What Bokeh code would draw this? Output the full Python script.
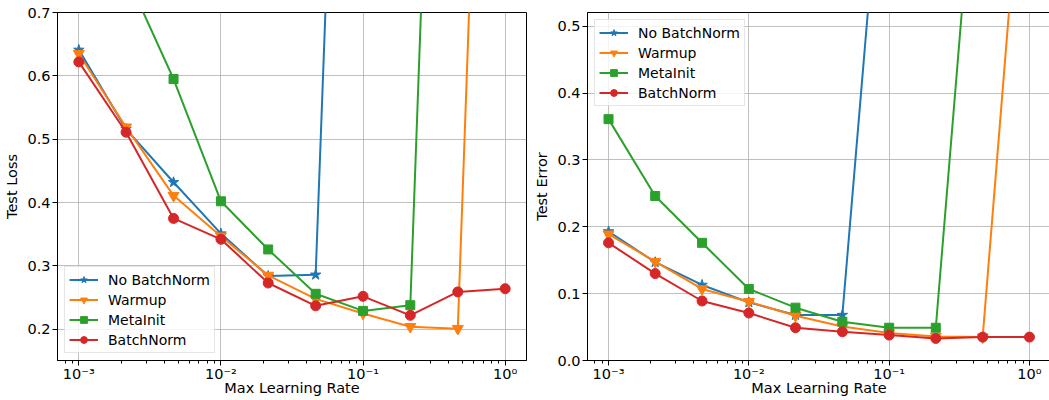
from bokeh.plotting import figure
from bokeh.models import (Range1d, FixedTicker, CustomJSTickFormatter, PrintfTickFormatter,
                          Legend, LegendItem)
from bokeh.layouts import row
from bokeh.embed import file_html
from bokeh.resources import INLINE

# ---- data ----
lr = [0.001, 0.00215, 0.00464, 0.01, 0.0215, 0.0464, 0.1, 0.215, 0.464, 1.0]

series_names = ["No BatchNorm", "Warmup", "MetaInit", "BatchNorm"]

# Test loss (diverged runs ~ ln(10) = 2.303)
loss_nobn = [0.641, 0.516, 0.432, 0.351, 0.284, 0.286, 2.303, 2.303, 2.303, 2.303]
loss_warmup = [0.635, 0.519, 0.411, 0.347, 0.285, 0.248, 0.225, 0.204, 0.201, 2.303]
loss_metainit = [1.000, 0.760, 0.595, 0.402, 0.326, 0.256, 0.229, 0.238, 2.303, 2.303]
loss_bn = [0.622, 0.511, 0.375, 0.342, 0.273, 0.237, 0.252, 0.222, 0.259, 0.264]

# Test error (diverged runs ~ 0.9)
err_nobn = [0.193, 0.147, 0.113, 0.087, 0.068, 0.068, 0.9, 0.9, 0.9, 0.9]
err_warmup = [0.189, 0.148, 0.107, 0.088, 0.067, 0.051, 0.041, 0.036, 0.035, 0.9]
err_metainit = [0.361, 0.246, 0.176, 0.107, 0.079, 0.058, 0.049, 0.049, 0.9, 0.9]
err_bn = [0.176, 0.130, 0.089, 0.071, 0.049, 0.043, 0.038, 0.033, 0.035, 0.035]

loss_ticks = [0.2, 0.3, 0.4, 0.5, 0.6, 0.7]
err_ticks = [0.0, 0.1, 0.2, 0.3, 0.4, 0.5]
x_major = [1e-3, 1e-2, 1e-1, 1.0]

# ---- style ----
colors = ["#1f77b4", "#ff7f0e", "#2ca02c", "#d62728"]
markers = ["star", "inverted_triangle", "square", "circle"]
msizes = [11, 11, 9, 10]
FONT = "DejaVu Sans"

x_minor = [m * 10.0 ** e for e in range(-4, 1) for m in range(2, 10)]

sup_js = """
const sup = {'-':'\u207b','0':'\u2070','1':'\u00b9','2':'\u00b2','3':'\u00b3',
             '4':'\u2074','5':'\u2075','6':'\u2076','7':'\u2077','8':'\u2078','9':'\u2079'};
const e = Math.round(Math.log10(tick));
return '10' + String(e).split('').map(c => sup[c]).join('');
"""


def make_fig(ys_list, ylabel, yrange, yticks, fw, bl, br, legend_loc):
    p = figure(frame_width=fw, frame_height=348, x_axis_type="log",
               x_range=Range1d(10 ** -3.15, 10 ** 0.15), y_range=Range1d(*yrange),
               output_backend="svg", toolbar_location=None,
               min_border_left=bl, min_border_right=br, min_border_top=12, min_border_bottom=40)
    p.outline_line_color = "black"
    p.outline_line_width = 1
    p.outline_line_alpha = 1
    p.background_fill_color = "white"
    p.border_fill_color = "white"

    items = []
    for name, ys, c, m, s in zip(series_names, ys_list, colors, markers, msizes):
        r1 = p.line(lr, ys, line_color=c, line_width=2)
        r2 = p.scatter(lr, ys, marker=m, size=s, fill_color=c, line_color=c)
        items.append(LegendItem(label=name, renderers=[r1, r2]))

    xa = p.xaxis[0]
    xa.ticker = FixedTicker(ticks=x_major, minor_ticks=x_minor)
    xa.formatter = CustomJSTickFormatter(code=sup_js)
    xa.axis_label = "Max Learning Rate"
    ya = p.yaxis[0]
    ya.ticker = FixedTicker(ticks=yticks, minor_ticks=[])
    ya.formatter = PrintfTickFormatter(format="%.1f")
    ya.axis_label = ylabel
    for ax in (xa, ya):
        ax.axis_label_text_font = FONT
        ax.axis_label_text_font_size = "14.5px"
        ax.axis_label_text_font_style = "normal"
        ax.axis_label_text_color = "black"
        ax.major_label_text_font = FONT
        ax.major_label_text_font_size = "14.5px"
        ax.major_label_text_color = "black"
        ax.axis_line_color = "black"
        ax.major_tick_line_color = "black"
        ax.minor_tick_line_color = "black"
        ax.major_tick_in = 0
        ax.major_tick_out = 5
        ax.minor_tick_in = 0
        ax.minor_tick_out = 3
        ax.major_label_standoff = 2
        ax.axis_label_standoff = 4
    ya.minor_tick_out = 0
    xa.major_label_standoff = 0
    xa.axis_label_standoff = -5

    for g in (p.xgrid[0], p.ygrid[0]):
        g.grid_line_color = "#b0b0b0"
        g.grid_line_width = 1
        g.grid_line_alpha = 0.8

    leg = Legend(items=items, location=legend_loc)
    leg.label_text_font = FONT
    leg.label_text_font_size = "14px"
    leg.label_text_color = "black"
    leg.glyph_width = 29
    leg.glyph_height = 17
    leg.label_height = 17
    leg.spacing = 3
    leg.padding = 4
    leg.margin = 7
    leg.label_standoff = 10
    leg.border_line_color = "#cccccc"
    leg.border_line_width = 1
    leg.background_fill_color = "white"
    leg.background_fill_alpha = 0.8
    p.add_layout(leg, "center")
    return p


p1 = make_fig([loss_nobn, loss_warmup, loss_metainit, loss_bn], "Test Loss",
              (0.1507, 0.7), loss_ticks, 469, 57, 5, "bottom_left")
p2 = make_fig([err_nobn, err_warmup, err_metainit, err_bn], "Test Error",
              (0.0, 0.5205), err_ticks, 463, 49, 6, "top_left")

layout = row(p1, p2)
open("out.html", "w").write(file_html(layout, INLINE))
